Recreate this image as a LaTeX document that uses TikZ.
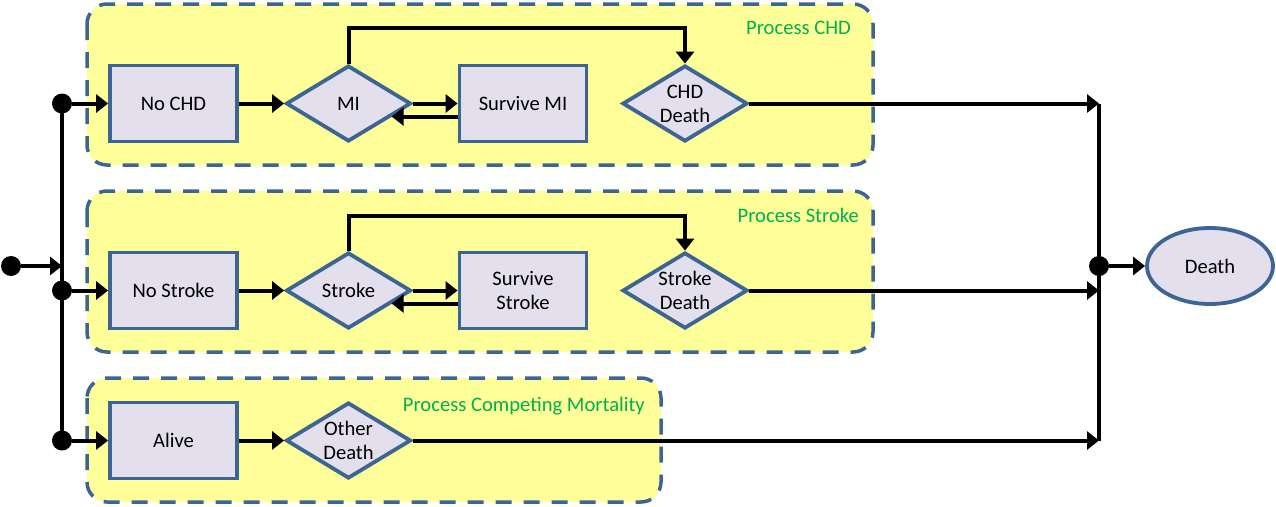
\documentclass[tikz,border=0pt]{standalone}
\usepackage{fontspec}
\setmainfont{Carlito}
\usetikzlibrary{shapes.geometric,arrows.meta}
\definecolor{procfill}{HTML}{FFFF99}
\definecolor{procline}{HTML}{3C6494}
\definecolor{boxfill}{HTML}{E4DFEC}
\definecolor{labgreen}{HTML}{00B050}
\begin{document}
\begin{tikzpicture}[x=1pt,y=-1pt,
  proc/.style={draw=procline, fill=procfill, line width=3.5pt, dash pattern=on 16pt off 12pt, rounded corners=20pt},
  txt/.style={font=\fontsize{20.6}{24}\selectfont, align=center},
  statebox/.style={txt, draw=procline, fill=boxfill, line width=3.8pt, minimum width=127pt, minimum height=76pt, inner sep=0pt},
  event/.style={txt, diamond, aspect=1.645, draw=procline, fill=boxfill, line width=3.8pt, minimum width=125pt, minimum height=76pt, inner sep=0pt},
  endstate/.style={txt, ellipse, draw=procline, fill=boxfill, line width=3.8pt, minimum width=126pt, minimum height=76pt, inner sep=0pt},
  junction/.style={circle, fill=black, minimum size=20pt, inner sep=0pt},
  flow/.style={line width=4pt, -{Triangle[length=12pt,width=18pt]}},
  link/.style={line width=4pt},
  proclabel/.style={txt, text=labgreen, anchor=base east, inner sep=0pt}
]
\useasboundingbox (0,0) rectangle (1276,506);

% process containers
\draw[proc] (87,4) rectangle (873,165);
\draw[proc] (87,191) rectangle (873,352);
\draw[proc] (87,378) rectangle (661,502);

\node[proclabel] (lchd) at (851,34) {Process CHD};
\node[proclabel] (lstroke) at (859,222) {Process Stroke};
\node[proclabel] (lcomp) at (645,411) {Process Competing Mortality};

% row 1
\node[statebox] (nochd) at (173.5,103.5) {No CHD};
\node[event] (mi) at (348.5,103.5) {MI};
\node[statebox] (smi) at (523,103.5) {Survive MI};
\node[event] (chdd) at (685,103.5) {CHD\\Death};
% row 2
\node[statebox] (nostroke) at (173.5,290.5) {No Stroke};
\node[event] (stroke) at (348.5,290.5) {Stroke};
\node[statebox] (sstroke) at (523,290.5) {Survive\\Stroke};
\node[event] (strd) at (685,290.5) {Stroke\\Death};
% row 3
\node[statebox] (alive) at (173.5,440.5) {Alive};
\node[event] (other) at (348.5,440.5) {Other\\Death};
% death
\node[endstate] (death) at (1210,266) {Death};

% junctions
\node[junction] (s0) at (11,266) {};
\node[junction] (d1) at (62,103.5) {};
\node[junction] (d2) at (62,290.5) {};
\node[junction] (d3) at (62,440.5) {};
\node[junction] (rj) at (1099,266) {};
\coordinate (j0) at (62,266);
\coordinate (r1) at (1099,103.5);
\coordinate (r2) at (1099,290.5);
\coordinate (r3) at (1099,440.5);
\coordinate (top1) at (0,28);
\coordinate (top2) at (0,216);

% left spine
\draw[link] (d1.center) -- (d3.center);
\draw[flow] (s0) -- (j0);
\draw[flow] (d1) -- (nochd);
\draw[flow] (d2) -- (nostroke);
\draw[flow] (d3) -- (alive);

% row 1 flows
\draw[flow] (nochd) -- (mi);
\draw[flow] (mi.east) -- (smi.west);
\draw[flow] ([yshift=-13pt]smi.west) -- ([yshift=-13pt]smi.west -| mi.-17.55);
\draw[flow] (mi.north) -- (mi.north |- top1) -| (chdd.north);
\draw[flow] (chdd.east) -- (r1);

% row 2 flows
\draw[flow] (nostroke) -- (stroke);
\draw[flow] (stroke.east) -- (sstroke.west);
\draw[flow] ([yshift=-13pt]sstroke.west) -- ([yshift=-13pt]sstroke.west -| stroke.-17.55);
\draw[flow] (stroke.north) -- (stroke.north |- top2) -| (strd.north);
\draw[flow] (strd.east) -- (r2);

% row 3 flows
\draw[flow] (alive) -- (other);
\draw[flow] (other.east) -- (r3);

% right spine
\draw[link] (r1) -- (r3);
\draw[flow] (rj) -- (death);
\end{tikzpicture}
\end{document}
